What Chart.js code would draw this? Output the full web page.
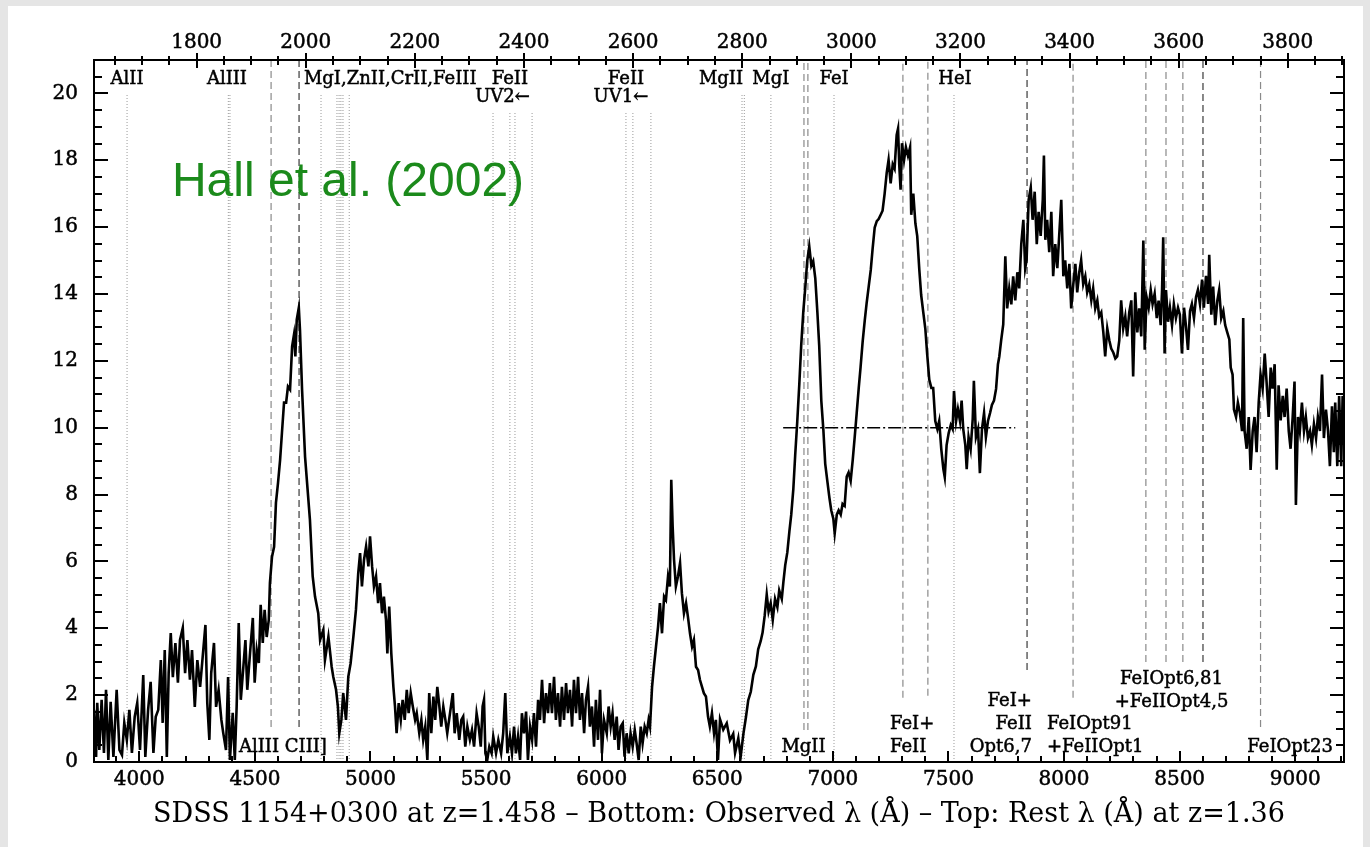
<!DOCTYPE html>
<html>
<head>
<meta charset="utf-8">
<script src="https://cdn.jsdelivr.net/npm/chart.js@4.4.1/dist/chart.umd.min.js"></script>
<style>
  html, body { margin: 0; padding: 0; background: #e5e5e5; overflow: hidden; }
  #panel { position: absolute; left: 8px; top: 6px; width: 1355px; height: 841px; background: #fff; }
  #spectrum { position: absolute; left: 0; top: 0; }
</style>
</head>
<body>
<div id="panel"></div>
<canvas id="spectrum" width="1370" height="847"></canvas>
<script>
// SDSS 1154+0300: observed wavelength (Å) and flux, one array per stretch of the spectrum
const specBlue = [
  [3804,1.56],[3813,0.15],[3818,1.77],[3827,0.36],[3837,1.86],[3847,0.27],[3856,2.16],[3866,0.06],
  [3876,1.80],[3888,0.15],[3902,2.16],[3914,0.36],[3925,0.21],[3935,1.17],[3946,0.66],[3957,1.56],
  [3968,0.27],[3980,1.35],[3991,1.77],[4003,0.36],[4017,2.60],[4026,0.15],[4038,1.56],[4049,2.40],
  [4061,0.27],[4071,1.35],[4082,1.56],[4093,3.05],[4101,1.17],[4110,3.35],[4119,0.15],[4127,2.66],
  [4136,3.86],[4145,2.54],[4156,3.56],[4167,2.37],[4176,3.65],[4188,4.01],[4198,2.66],[4208,3.65],
  [4219,2.46],[4228,3.35],[4240,1.65],[4251,3.05],[4263,2.25],[4274,3.14],[4286,4.10],[4294,1.77],
  [4303,0.66],[4311,2.66],[4323,3.56],[4332,1.65],[4343,2.16],[4355,1.26],[4363,0.87],[4375,0.36],
  [4384,2.54],[4392,0.06],[4404,1.47],[4413,0.06],[4421,1.65],[4430,4.16],[4439,1.86],[4450,2.84],
  [4459,3.65],[4467,2.16],[4479,3.26],[4491,4.31],[4499,2.37],[4508,3.35],[4517,2.96],[4525,4.70],
  [4534,3.56],[4542,4.55],[4551,3.74],[4560,4.25],[4565,5.36],[4574,6.14],[4583,6.44],[4591,7.75],
  [4600,8.35],[4609,9.04],[4617,9.85],[4626,10.75],[4635,10.75],[4643,11.23],[4652,11.14],[4661,12.43],
  [4669,12.78],[4675,12.13],[4681,13.23],[4690,13.59],[4695,12.93],[4704,11.14],[4717,9.13]
];
const specCiii = [
  [4738,7.25],[4750,5.55],[4760,4.95],[4774,4.45],[4782,3.65],[4796,3.95],[4803,3.05],[4818,3.75],
  [4832,2.85],[4839,2.55],[4851,2.16],[4859,1.66],[4865,0.86],[4874,1.26],[4882,2.06],[4894,1.26],
  [4904,2.55],[4914,2.95],[4926,3.75],[4937,4.55],[4947,5.65],[4955,6.25],[4963,5.25],[4972,6.05],
  [4981,6.45],[4991,5.85],[4998,6.75],[5007,5.85],[5015,5.25],[5024,5.55],[5033,4.75],[5041,5.35],
  [5050,4.45],[5058,4.95],[5067,4.25],[5073,3.25],[5081,4.65],[5090,3.25],[5099,2.25],[5106,1.66],
  [5113,0.86],[5122,1.76],[5131,1.26],[5139,1.86],[5148,1.26],[5157,2.16],[5165,1.46],[5174,2.06],
  [5183,1.66],[5193,1.26],[5200,1.46],[5211,0.86],[5220,1.26],[5228,0.66],[5237,1.06],[5246,0.06],
  [5254,2.06],[5263,0.86],[5272,1.96],[5280,1.26],[5289,2.25],[5298,1.66],[5306,1.06],[5315,1.66],
  [5324,1.26],[5332,0.86],[5344,1.46],[5356,2.06],[5364,0.86],[5373,1.46],[5384,0.66],[5393,1.26],
  [5401,1.36],[5410,0.46],[5419,1.06],[5430,0.66],[5439,0.96],[5448,0.46],[5459,1.46],[5468,1.06],
  [5477,0.46],[5485,1.66],[5491,1.86],[5497,0.26],[5505,0.06],[5514,0.46],[5524,0.26],[5531,0.76],
  [5543,0.26],[5553,0.66],[5565,0.26],[5574,0.86],[5583,2.06],[5592,0.26],[5603,0.76],[5612,0.26],
  [5621,1.06]
];
const specGreen = [
  [5629,0.26],[5638,0.76],[5647,0.06],[5655,1.46],[5664,0.86],[5673,1.51],[5681,0.06],[5690,1.06],
  [5699,0.66],[5707,1.46],[5716,0.46],[5725,1.86],[5733,1.26],[5742,2.46],[5751,1.16],[5759,2.06],
  [5768,1.46],[5776,2.36],[5785,1.46],[5794,2.55],[5802,1.26],[5811,2.06],[5820,1.06],[5828,2.25],
  [5837,1.26],[5846,2.36],[5854,1.46],[5863,2.16],[5872,1.06],[5880,2.46],[5889,1.46],[5898,2.55],
  [5906,1.26],[5915,2.06],[5924,0.86],[5932,1.86],[5941,2.25],[5949,1.06],[5958,1.66],[5967,0.46],
  [5975,1.86],[5984,0.66],[5993,2.16],[6001,0.26],[6010,1.26],[6022,0.86],[6030,1.66],[6039,1.06],
  [6047,1.46],[6056,0.66],[6065,1.36],[6073,0.36],[6082,1.06],[6091,1.16],[6099,0.16],[6108,0.86],
  [6117,0.26],[6125,0.86],[6134,0.46],[6143,0.96],[6151,0.56],[6160,0.06],[6169,1.06],[6177,0.56],
  [6186,1.06],[6195,0.86],[6203,1.26],[6209,1.06],[6218,2.25],[6226,2.85],[6235,3.45],[6244,4.05],
  [6252,4.75],[6261,3.85],[6270,4.95],[6278,4.85],[6287,5.55],[6295,5.25],[6301,8.44],[6307,7.05],
  [6313,6.05],[6321,5.25],[6330,5.55],[6339,5.95],[6347,5.05],[6356,4.45],[6365,4.75],[6373,4.35],
  [6382,3.85],[6391,3.45],[6399,3.65],[6408,2.85],[6417,2.75],[6425,2.46],[6434,2.25],[6442,2.06],
  [6451,1.96],[6460,1.36],[6468,1.06],[6477,1.46],[6486,0.86],[6494,1.26],[6503,0.06]
];
const specMgii = [
  [6512,1.28],[6526,0.97],[6541,1.16],[6555,0.65],[6569,0.84],[6577,0.27],[6591,0.71],[6601,0.15],
  [6613,0.84],[6624,1.34],[6634,1.85],[6645,2.10],[6656,2.61],[6667,2.86],[6677,3.37],[6688,3.62],
  [6696,3.87],[6705,4.37],[6714,5.01],[6722,4.50],[6731,4.75],[6740,4.25],[6750,4.88],[6760,4.63],
  [6768,5.13],[6779,4.88],[6786,5.38],[6794,5.89],[6803,6.27],[6812,6.90],[6820,7.40],[6829,8.16],
  [6837,9.17],[6846,10.18],[6855,11.32],[6863,12.45],[6872,13.46],[6881,14.22],[6889,14.98],[6898,15.42],
  [6907,14.85],[6915,14.98],[6924,14.47],[6933,13.46],[6941,12.45],[6950,10.81],[6959,9.93],[6967,8.92],
  [6976,8.41],[6985,7.91],[6993,7.53],[7002,7.28],[7008,6.84],[7017,7.40],[7025,7.53],[7034,7.40],
  [7042,7.72],[7051,7.66],[7060,8.54],[7068,8.66],[7077,8.41],[7086,9.04],[7094,9.68],[7103,10.43],
  [7112,11.19],[7120,11.82],[7129,12.58],[7138,13.21],[7146,13.72],[7155,14.22],[7164,14.72],[7172,15.36],
  [7181,15.99],[7190,16.18],[7198,16.24],[7207,16.37],[7215,16.49],[7224,17.00],[7233,17.63],[7241,18.01],
  [7250,17.31],[7259,17.88],[7267,17.75],[7276,18.76],[7282,18.95],[7287,17.88],[7293,17.12],[7299,18.51],
  [7308,18.01],[7316,18.39],[7325,18.13],[7334,18.39],[7339,16.37],[7348,17.00],[7357,16.11],[7365,15.73],
  [7374,14.72],[7382,13.97],[7391,13.46],[7400,12.96],[7408,12.20],[7417,11.44],[7426,11.19],[7434,11.19]
];
const specIron = [
  [7443,10.20],[7452,9.96],[7460,10.20],[7469,9.36],[7478,8.76],[7484,8.52],[7492,9.48],[7501,9.84],
  [7510,10.08],[7518,9.96],[7524,11.10],[7533,10.20],[7541,10.56],[7550,10.20],[7557,10.81],[7564,9.96],
  [7573,9.48],[7579,8.76],[7587,9.72],[7596,9.36],[7605,10.26],[7610,11.40],[7619,9.72],[7628,9.96],
  [7636,8.64],[7645,9.96],[7654,10.44],[7662,9.72],[7671,10.20],[7680,10.44],[7688,10.68],[7697,10.81],
  [7706,11.16],[7714,11.89],[7720,12.13],[7728,12.61],[7737,13.09],[7746,15.13],[7754,13.57],[7763,14.17],
  [7772,13.69],[7780,14.53],[7789,13.81],[7798,14.65],[7806,14.17],[7815,15.49],[7824,16.22],[7832,14.77],
  [7838,15.01],[7847,16.82],[7856,17.18],[7864,16.22],[7873,17.06],[7882,15.49],[7890,16.46],[7899,15.74],
  [7908,16.82],[7913,18.14],[7919,15.62],[7927,16.22],[7936,15.25],[7945,16.46],[7953,14.53],[7962,15.49],
  [7971,14.77],[7979,15.74],[7988,16.82],[7997,14.53],[8005,15.01],[8014,14.17],[8023,14.90],[8031,13.57],
  [8040,14.29],[8049,14.90],[8057,14.05],[8066,14.65],[8074,15.01],[8083,14.29],[8092,14.53],[8100,14.05],
  [8109,14.29],[8118,13.81],[8126,14.17],[8135,13.57],[8144,13.81],[8152,13.33],[8161,13.45],[8170,12.85],
  [8178,12.13],[8187,12.97],[8196,12.61],[8204,12.37],[8213,12.25],[8222,12.07],[8230,12.13],[8239,12.61],
  [8247,13.81],[8256,12.97],[8265,13.33],[8273,12.73],[8282,13.45],[8291,13.81],[8299,11.53],[8308,14.05],
  [8317,12.85],[8325,13.57],[8334,12.73]
];
const specRed = [
  [8343,15.60],[8349,12.33],[8357,13.91],[8366,13.59],[8375,14.12],[8383,13.70],[8392,14.01],[8401,13.28],
  [8409,13.80],[8418,13.07],[8424,14.12],[8429,15.70],[8435,12.22],[8441,14.12],[8450,13.17],[8458,13.59],
  [8467,13.07],[8475,13.70],[8484,13.28],[8493,13.59],[8501,13.38],[8510,12.22],[8519,13.59],[8527,13.07],
  [8536,12.33],[8545,13.49],[8553,13.70],[8562,13.28],[8571,13.91],[8579,14.12],[8588,13.70],[8597,14.43],
  [8605,13.59],[8614,14.54],[8623,13.70],[8628,15.17],[8637,13.38],[8645,14.22],[8654,13.07],[8663,13.80],
  [8671,14.12],[8680,13.28],[8689,13.49],[8697,13.07],[8706,12.85],[8715,12.64],[8721,11.80],[8729,11.59],
  [8735,10.54],[8744,10.32],[8752,10.75],[8761,10.43],[8770,9.90],[8775,13.28],[8781,9.90],[8790,9.37],
  [8799,10.32],[8807,8.74],[8816,9.90],[8824,10.32],[8833,9.27],[8842,10.75],[8850,11.59],[8859,11.17],
  [8868,12.22],[8876,11.38],[8885,10.32],[8894,11.80],[8902,11.17],[8911,11.90],[8920,8.74],[8928,11.27],
  [8937,10.22],[8946,10.95],[8954,10.32],[8963,11.17],[8972,9.90],[8980,9.37],[8989,10.32],[8997,11.38],
  [9003,7.69],[9012,10.32],[9020,9.90],[9029,10.75],[9038,9.90],[9046,10.32],[9055,9.69],[9064,9.90],
  [9072,9.48],[9081,10.11],[9090,9.69],[9098,10.32],[9107,9.90],[9116,11.59],[9124,9.69],[9133,10.54],
  [9142,9.90],[9150,8.85],[9159,10.64],[9167,9.27],[9173,10.75],[9182,8.85],[9190,10.95],[9199,8.85],
  [9205,10.95],[9211,10.32]
];

// Axis ranges and labelled ticks
const obsMin = 3804, obsMax = 9211;
const fluxMax = 21;
const zAbs = 1.36;
const bottomTicks = [4000, 4500, 5000, 5500, 6000, 6500, 7000, 7500, 8000, 8500, 9000];
const topTicks = [1800, 2000, 2200, 2400, 2600, 2800, 3000, 3200, 3400, 3600, 3800];
const fluxTicks = [0, 2, 4, 6, 8, 10, 12, 14, 16, 18, 20];

// Absorption lines of the z=1.36 system (observed Å) and where each dotted marker tops out
const absLines = [3947, 4385, 4392, 4786, 4855, 4864, 4872, 4881, 4908, 5530, 5603, 5625, 5699,
  6105, 6135, 6213, 6607, 6617, 6732, 7005, 7524];
const absTop = [19.97, 19.97, 19.97, 20.0, 20.0, 20.0, 20.0, 20.0, 20.0, 19.43, 19.43, 19.43, 19.43,
  19.43, 19.43, 19.43, 20.0, 20.0, 20.0, 20.0, 19.97];

// Emission features at z=1.458 (observed Å) and where each dashed marker stops
const emLight = [4570, 6875, 6892, 7303, 7411, 8039, 8354, 8441, 8514, 8850];
const emLightEnd = [1.05, 0.96, 0.96, 1.92, 1.98, 1.92, 2.99, 2.99, 2.99, 1.05];
const emStrong = [4691, 7840, 8601];
const emStrongEnd = [1.05, 2.75, 2.99];

// Continuum level drawn under the MgII / iron blend
const contFrom = 6785, contTo = 7789, contLevel = 10;

// Line identifications: text, observed Å, flux at the baseline, alignment
const idLabels = [
  ['AlII', 3947, 20.27, 'center'], ['AlIII', 4379, 20.27, 'center'],
  ['MgI,ZnII,CrII,FeIII', 4712, 20.27, 'left'],
  ['FeII', 5603, 20.27, 'center'], ['UV2\u2190', 5571, 19.73, 'center'],
  ['FeII', 6105, 20.27, 'center'], ['UV1\u2190', 6083, 19.73, 'center'],
  ['MgII', 6516, 20.27, 'center'], ['MgI', 6732, 20.27, 'center'],
  ['FeI', 7005, 20.27, 'center'], ['HeI', 7528, 20.27, 'center'],
  ['AlIII CIII]', 4431, 0.30, 'left'], ['MgII', 6873, 0.30, 'center'],
  ['FeI+', 7247, 0.99, 'left'], ['FeII', 7247, 0.30, 'left'],
  ['FeI+', 7861, 1.68, 'right'], ['FeII', 7861, 0.99, 'right'], ['Opt6,7', 7861, 0.30, 'right'],
  ['FeIOpt91', 7926, 0.99, 'left'], ['+FeIIOpt1', 7926, 0.30, 'left'],
  ['FeIOpt6,81', 8465, 2.34, 'center'], ['+FeIIOpt4,5', 8465, 1.65, 'center'],
  ['FeIOpt23', 9163, 0.30, 'right']
];
const credit = ['Hall et al. (2002)', 4141, 16.92];

const SERIF = '"DejaVu Serif", "Liberation Serif", serif';
Chart.defaults.font.family = SERIF;
Chart.defaults.color = '#000';

const spectrum = [specBlue, specCiii, specGreen, specMgii, specIron, specRed]
  .flat()
  .map(([w, f]) => ({ x: w, y: f }));

// Vertical markers: one dataset per style, broken apart with null points
function markers(positions, lows, highs) {
  const pts = [];
  positions.forEach((w, i) => {
    pts.push({ x: w, y: lows[i] }, { x: w, y: highs[i] }, { x: w, y: null });
  });
  return pts;
}

const frameTicks = {
  id: 'frameTicks',
  afterDatasetsDraw(chart) {
    const { ctx, chartArea: a, scales } = chart;
    ctx.save();
    ctx.strokeStyle = '#000';
    ctx.lineWidth = 2;
    ctx.strokeRect(a.left, a.top, a.right - a.left, a.bottom - a.top);
    ctx.beginPath();
    for (let v = 0; v <= fluxMax; v += 0.5) {
      const y = Math.round(scales.y.getPixelForValue(v));
      const len = v % 2 === 0 ? 14 : 8;
      ctx.moveTo(a.left, y); ctx.lineTo(a.left + len, y);
      ctx.moveTo(a.right, y); ctx.lineTo(a.right - len, y);
    }
    for (let w = 3900; w <= obsMax; w += 100) {
      const x = Math.round(scales.x.getPixelForValue(w));
      const len = w % 500 === 0 ? 11 : 6;
      ctx.moveTo(x, a.bottom); ctx.lineTo(x, a.bottom - len);
    }
    for (let w = 1650; w <= obsMax / (1 + zAbs); w += 50) {
      const x = Math.round(scales.xRest.getPixelForValue(w));
      const major = w % 200 === 0;
      ctx.moveTo(x, a.top - (major ? 7 : 4)); ctx.lineTo(x, a.top + (major ? 8 : 5));
    }
    ctx.stroke();
    ctx.restore();
  }
};

const lineIds = {
  id: 'lineIds',
  afterDraw(chart) {
    const { ctx, scales } = chart;
    ctx.save();
    ctx.fillStyle = '#000';
    ctx.strokeStyle = '#000';
    ctx.lineWidth = 0.5;
    ctx.font = '18px ' + SERIF;
    ctx.textBaseline = 'alphabetic';
    idLabels.forEach(([text, w, f, align]) => {
      const x = scales.x.getPixelForValue(w);
      const y = scales.y.getPixelForValue(f);
      ctx.textAlign = align;
      ctx.fillText(text, x, y);
      ctx.strokeText(text, x, y);
    });
    ctx.fillStyle = '#1b8a1b';
    ctx.font = '48px "Liberation Sans", Arial, sans-serif';
    ctx.textAlign = 'left';
    ctx.fillText(credit[0], scales.x.getPixelForValue(credit[1]), scales.y.getPixelForValue(credit[2]));
    ctx.restore();
  }
};

const hidden = { display: false, drawTicks: false };
const tickFont = { size: 20 };
const tickStyle = { font: tickFont, textStrokeColor: '#000', textStrokeWidth: 0.5, maxRotation: 0, autoSkip: false, callback: v => String(v) };

new Chart(document.getElementById('spectrum'), {
  type: 'line',
  data: {
    datasets: [
      {
        data: spectrum,
        borderColor: '#000',
        borderWidth: 2.6,
        pointRadius: 0,
        order: 0
      },
      {
        data: [{ x: contFrom, y: contLevel }, { x: contTo, y: contLevel }],
        borderColor: '#000',
        borderWidth: 1.5,
        borderDash: [13, 3, 2, 3],
        pointRadius: 0,
        order: 1
      },
      {
        data: markers(absLines, absLines.map(() => 0), absTop),
        borderColor: '#9a9a9a',
        borderWidth: 1,
        borderDash: [1, 2],
        pointRadius: 0,
        order: 3
      },
      {
        data: markers(emLight, emLightEnd, emLight.map(() => fluxMax)),
        borderColor: '#8a8a8a',
        borderWidth: 1.2,
        borderDash: [7, 4],
        pointRadius: 0,
        order: 2
      },
      {
        data: markers(emStrong, emStrongEnd, emStrong.map(() => fluxMax)),
        borderColor: '#3a3a3a',
        borderWidth: 1.2,
        borderDash: [7, 4],
        pointRadius: 0,
        order: 2
      }
    ]
  },
  options: {
    responsive: false,
    animation: false,
    events: [],
    layout: { padding: 0 },
    plugins: { legend: { display: false }, tooltip: { enabled: false } },
    scales: {
      x: {
        type: 'linear',
        position: 'bottom',
        min: obsMin,
        max: obsMax,
        grid: hidden,
        border: { display: false },
        afterBuildTicks: s => { s.ticks = bottomTicks.map(v => ({ value: v })); },
        ticks: { ...tickStyle, padding: 6 },
        title: {
          display: true,
          text: 'SDSS 1154+0300 at z=1.458 \u2013 Bottom: Observed \u03bb (\u00c5) \u2013 Top: Rest \u03bb (\u00c5) at z=1.36',
          font: { size: 27 },
          padding: { top: 0, bottom: 16 }
        },
        afterFit: s => { s.height = 85; }
      },
      xRest: {
        type: 'linear',
        position: 'top',
        min: obsMin / (1 + zAbs),
        max: obsMax / (1 + zAbs),
        grid: hidden,
        border: { display: false },
        afterBuildTicks: s => { s.ticks = topTicks.map(v => ({ value: v })); },
        ticks: { ...tickStyle, padding: 5 },
        afterFit: s => { s.height = 60; }
      },
      y: {
        position: 'left',
        min: 0,
        max: fluxMax,
        grid: hidden,
        border: { display: false },
        afterBuildTicks: s => { s.ticks = fluxTicks.map(v => ({ value: v })); },
        ticks: { ...tickStyle, padding: 16 },
        afterFit: s => { s.width = 94; }
      },
      yRight: {
        position: 'right',
        min: 0,
        max: fluxMax,
        grid: hidden,
        border: { display: false },
        ticks: { display: false },
        afterFit: s => { s.width = 26; }
      }
    }
  },
  plugins: [frameTicks, lineIds]
});
</script>
</body>
</html>
